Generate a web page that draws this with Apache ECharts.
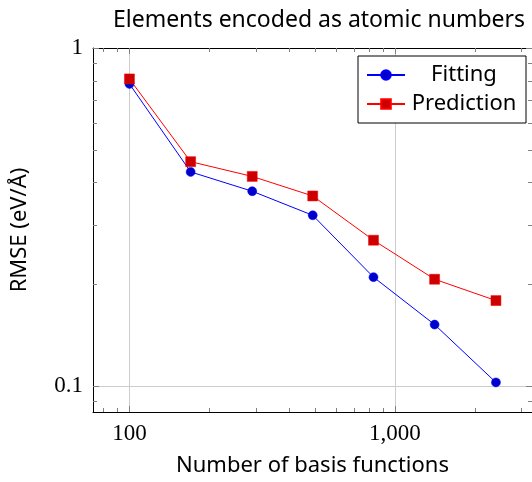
<!DOCTYPE html>
<html>
<head>
<meta charset="utf-8">
<script src="https://cdn.jsdelivr.net/npm/echarts@6/dist/echarts.min.js"></script>
<style>
  html, body { margin: 0; padding: 0; background: #fff; }
  #chart { width: 532px; height: 482px; }
</style>
</head>
<body>
<div id="chart"></div>
<script>
// basis function counts (x) and RMSE values (y)
const basisCounts = [100, 170, 290, 490, 830, 1410, 2400]
const fittingRmse = [0.783, 0.430, 0.377, 0.320, 0.210, 0.152, 0.1025]
const predictionRmse = [0.810, 0.461, 0.417, 0.365, 0.270, 0.207, 0.179]

// tick values
const xMajorTicks = [100, 1000]
const xMinorTicks = [80, 90, 200, 300, 400, 500, 600, 700, 800, 900, 2000, 3000]
const yMajorTicks = [0.1, 1]
const yMinorTicks = [0.09, 0.2, 0.3, 0.4, 0.5, 0.6, 0.7, 0.8, 0.9]

const sansFont = 'Noto Sans'
const serifFont = 'Liberation Serif'
const tickColor = '#808080'
const gridColor = '#cccccc'

const xMin = 72.9, xMax = 3281
const yMin = 0.0838, yMax = 1

function toPairs(xs, ys) {
  return xs.map((x, i) => [x, ys[i]])
}

function makeAxis(dir, position, ticks, opts) {
  const isMajor = opts.major
  return {
    type: 'log',
    logBase: 10,
    position: position,
    min: dir === 'x' ? xMin : yMin,
    max: dir === 'x' ? xMax : yMax,
    axisLine: {
      show: opts.line,
      onZero: false,
      lineStyle: { color: '#000', width: 1 }
    },
    axisTick: {
      show: true,
      inside: true,
      length: isMajor ? 6 : 4,
      customValues: ticks,
      lineStyle: { color: tickColor, width: 1 }
    },
    axisLabel: opts.label ? {
      show: true,
      customValues: ticks,
      fontFamily: serifFont,
      fontSize: 23,
      color: '#000',
      margin: 10,
      formatter: function (v) {
        return v >= 1000 ? v.toLocaleString('en-US') : String(v)
      }
    } : { show: false },
    splitLine: {
      show: !!opts.grid,
      lineStyle: { color: gridColor, width: 1 }
    },
    minorTick: { show: false },
    minorSplitLine: { show: false }
  }
}

const xMain = makeAxis('x', 'bottom', xMajorTicks, { major: true, line: true, label: true, grid: true })
xMain.name = 'Number of basis functions'
xMain.nameLocation = 'middle'
xMain.nameGap = 43
xMain.nameTextStyle = { fontFamily: sansFont, fontSize: 22, color: '#000' }

const yMain = makeAxis('y', 'left', yMajorTicks, { major: true, line: true, label: true, grid: true })
yMain.name = 'RMSE (eV/Å)'
yMain.nameLocation = 'middle'
yMain.nameGap = 62
yMain.nameTextStyle = { fontFamily: sansFont, fontSize: 22, color: '#000' }

const xAxes = [
  xMain,
  makeAxis('x', 'bottom', xMinorTicks, { major: false, line: false }),
  makeAxis('x', 'top', xMajorTicks, { major: true, line: true }),
  makeAxis('x', 'top', xMinorTicks, { major: false, line: false })
]
const yAxes = [
  yMain,
  makeAxis('y', 'left', yMinorTicks, { major: false, line: false }),
  makeAxis('y', 'right', yMajorTicks, { major: true, line: true }),
  makeAxis('y', 'right', yMinorTicks, { major: false, line: false })
]

const legendRich = { t: { width: 108, align: 'center', fontFamily: sansFont, fontSize: 22, lineHeight: 24, color: '#000' } }

const option = {
  animation: false,
  backgroundColor: '#fff',
  title: {
    text: 'Elements encoded as atomic numbers',
    left: 314,
    textAlign: 'center',
    top: 4,
    textStyle: { fontFamily: sansFont, fontSize: 23, fontWeight: 'normal', color: '#000' }
  },
  grid: { left: 93, top: 48, width: 440, height: 366, containLabel: false },
  legend: {
    orient: 'vertical',
    left: 358,
    top: 56,
    padding: [8, 8, 8, 8],
    itemGap: 7,
    itemWidth: 38,
    itemHeight: 12,
    borderColor: '#000',
    borderWidth: 1,
    borderRadius: 0,
    backgroundColor: '#fff',
    formatter: function (name) { return '{t|' + name + '}' },
    textStyle: { rich: legendRich },
    data: ['Fitting', 'Prediction']
  },
  xAxis: xAxes,
  yAxis: yAxes,
  series: [
    {
      name: 'Fitting',
      type: 'line',
      xAxisIndex: 0,
      yAxisIndex: 0,
      data: toPairs(basisCounts, fittingRmse),
      symbol: 'circle',
      symbolSize: 9,
      itemStyle: { color: '#0000cc', borderColor: '#0000ff', borderWidth: 0.5 },
      lineStyle: { color: '#0000ff', width: 1 }
    },
    {
      name: 'Prediction',
      type: 'line',
      xAxisIndex: 0,
      yAxisIndex: 0,
      data: toPairs(basisCounts, predictionRmse),
      symbol: 'rect',
      symbolSize: 10,
      itemStyle: { color: '#cc0000', borderColor: '#ff0000', borderWidth: 0.5 },
      lineStyle: { color: '#ff0000', width: 1 }
    }
  ]
}

const chart = echarts.init(document.getElementById('chart'), null, { renderer: 'canvas' })
chart.setOption(option)
</script>
</body>
</html>
